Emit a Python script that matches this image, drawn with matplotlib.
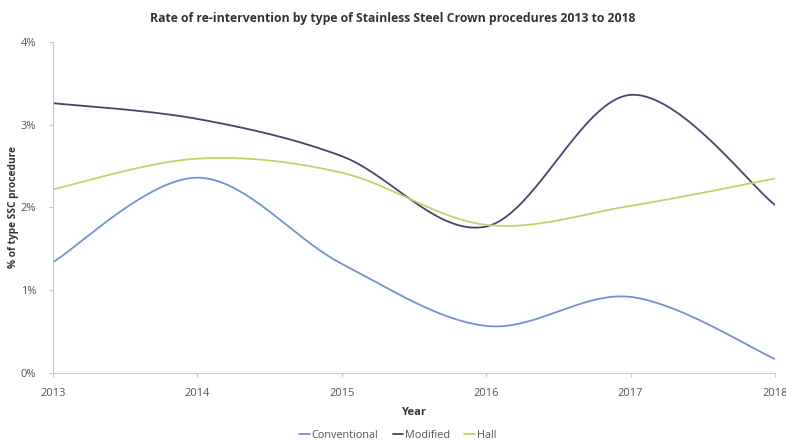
import numpy as np
import matplotlib
matplotlib.use("Agg")
import matplotlib.pyplot as plt
from matplotlib.ticker import PercentFormatter

years = [2013, 2014, 2015, 2016, 2017, 2018]
conventional = [1.34, 2.36, 1.32, 0.57, 0.92, 0.17]
modified = [3.26, 3.07, 2.62, 1.77, 3.36, 2.03]
hall = [2.22, 2.59, 2.42, 1.79, 2.02, 2.35]

series_names = ["Conventional", "Modified", "Hall"]
series_colors = ["#7391d2", "#45466f", "#c3d269"]


def smooth_curve(x, y, steps=40):
    """Catmull-Rom spline through the points, like a spreadsheet's smoothed line."""
    x = np.asarray(x, float)
    y = np.asarray(y, float)
    px = np.concatenate([[x[0]], x, [x[-1]]])
    py = np.concatenate([[y[0]], y, [y[-1]]])
    xs, ys = [], []
    t = np.linspace(0, 1, steps)
    for i in range(1, len(px) - 2):
        p0, p1, p2, p3 = (np.array([px[j], py[j]]) for j in (i - 1, i, i + 1, i + 2))
        c1 = p1 + (p2 - p0) / 6.0
        c2 = p2 - (p3 - p1) / 6.0
        seg = ((1 - t) ** 3)[:, None] * p1 + (3 * (1 - t) ** 2 * t)[:, None] * c1 \
            + (3 * (1 - t) * t ** 2)[:, None] * c2 + (t ** 3)[:, None] * p2
        xs.append(seg[:, 0])
        ys.append(seg[:, 1])
    return np.concatenate(xs), np.concatenate(ys)


plt.rcParams["font.family"] = ["Open Sans", "DejaVu Sans"]

fig = plt.figure(figsize=(7.86, 4.41), dpi=100)
ax = fig.add_axes([0.0674, 0.154, 0.9186, 0.751])

for name, vals, col in zip(series_names, [conventional, modified, hall], series_colors):
    sx, sy = smooth_curve(years, vals)
    ax.plot(sx, sy, color=col, lw=1.3, label=name, solid_capstyle="round")

ax.set_xlim(2013, 2018)
ax.set_ylim(0, 4)
ax.set_xticks(years)
ax.set_xticklabels([str(y) for y in years])
ax.set_yticks([0, 1, 2, 3, 4])
ax.yaxis.set_major_formatter(PercentFormatter(decimals=0))

for side in ("top", "right"):
    ax.spines[side].set_visible(False)
for side in ("left", "bottom"):
    ax.spines[side].set_color("#c8c8c8")
    ax.spines[side].set_linewidth(0.8)

ax.tick_params(axis="both", colors="#c8c8c8", labelcolor="#555555",
               labelsize=8, length=3, width=0.8, direction="out")
ax.tick_params(axis="x", pad=8)
ax.tick_params(axis="y", pad=9)

ax.set_xlabel("Year", fontsize=8, fontweight="bold", color="#333333", va="center")
ax.xaxis.set_label_coords(0.5, -0.118)
ax.set_ylabel("% of type SSC procedure", fontsize=7.3, fontweight="bold",
              color="#333333", va="center")
ax.yaxis.set_label_coords(-0.055, 0.5)

fig.text(0.5, 0.958, "Rate of re-intervention by type of Stainless Steel Crown procedures 2013 to 2018",
         ha="center", va="center", fontsize=8.8, fontweight="bold", color="#333333")

fig.legend(loc="center", bbox_to_anchor=(0.506, 0.0136), ncol=3, frameon=False,
           fontsize=7.8, handlelength=1.0, handletextpad=0.15, columnspacing=1.3,
           labelcolor="#555555")

fig.savefig("out.png", dpi=100, facecolor="white")
